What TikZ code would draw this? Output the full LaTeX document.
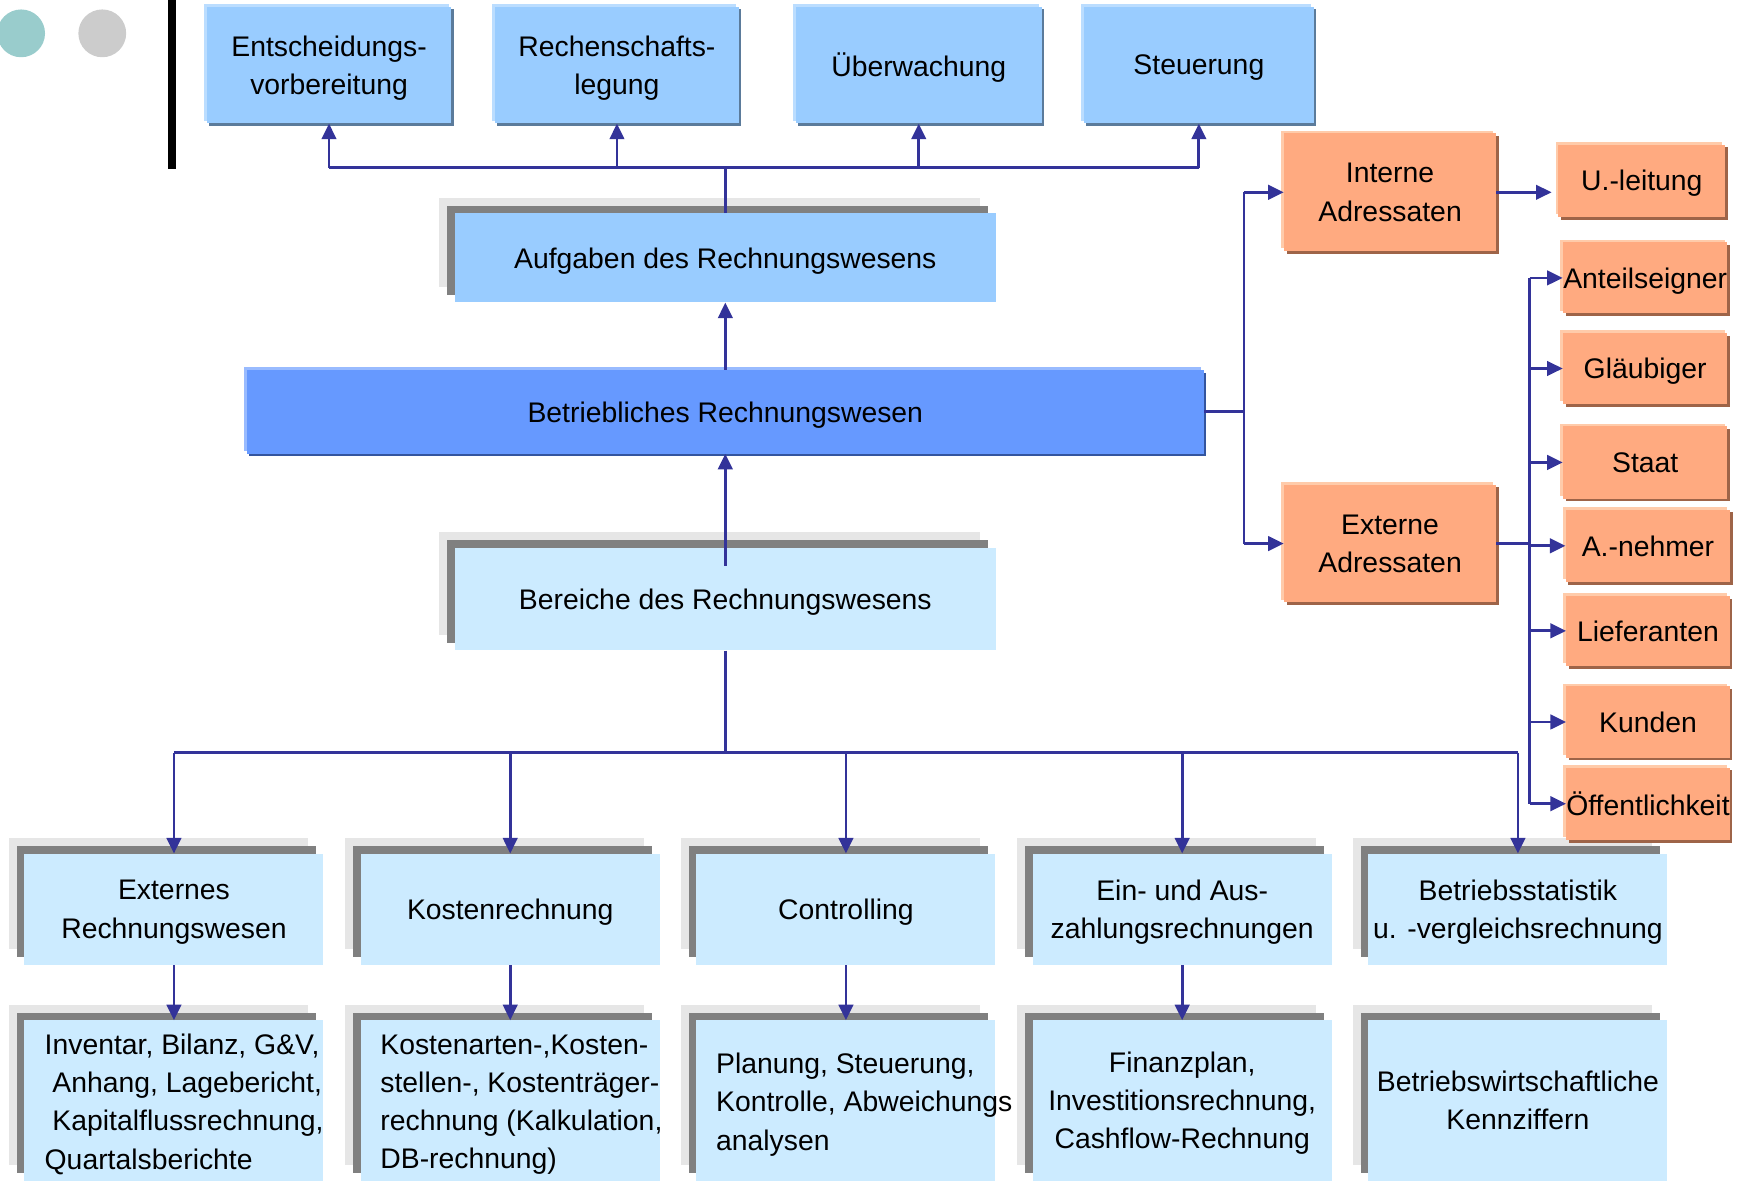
\documentclass[tikz,border=0pt]{standalone}
\usepackage{fontspec}
\setmainfont{Liberation Sans}
\usetikzlibrary{arrows.meta,shadows}
\definecolor{conn}{HTML}{333399}
\definecolor{topblue}{HTML}{99CCFF}
\definecolor{tophi}{HTML}{BBDDFF}
\definecolor{topsh}{HTML}{5B7B9B}
\definecolor{midblue}{HTML}{6699FF}
\definecolor{midhi}{HTML}{99BBFF}
\definecolor{midsh}{HTML}{33559F}
\definecolor{orfill}{HTML}{FFAA80}
\definecolor{orhi}{HTML}{FFCBAA}
\definecolor{orsh}{HTML}{9E6448}
\definecolor{paleblue}{HTML}{CCEBFF}
\definecolor{lgray}{HTML}{E6E6E6}
\definecolor{dgray}{HTML}{808080}
\definecolor{dotteal}{HTML}{99CCCC}
\definecolor{dotgray}{HTML}{CCCCCC}
\tikzset{
  arr/.style={draw=conn, line width=2.5pt, -{Triangle[length=14pt,width=13pt]}},
  ln/.style={draw=conn, line width=2.5pt},
  topbox/.style={fill=topblue,
    general shadow={fill=topsh, shadow xshift=2pt, shadow yshift=-2.5pt},
    general shadow={fill=tophi, shadow xshift=-2.5pt, shadow yshift=2.5pt}},
  midbox/.style={fill=midblue,
    general shadow={fill=midsh, shadow xshift=2pt, shadow yshift=-2.5pt},
    general shadow={fill=midhi, shadow xshift=-2.5pt, shadow yshift=2.5pt}},
  orbox/.style={fill=orfill,
    general shadow={fill=orsh, shadow xshift=2.5pt, shadow yshift=-2.5pt},
    general shadow={fill=orhi, shadow xshift=-2.5pt, shadow yshift=2.5pt}},
  layered/.style={fill=#1,
    general shadow={fill=lgray, shadow xshift=-14pt, shadow yshift=14pt},
    general shadow={fill=dgray, shadow xshift=-7pt, shadow yshift=7pt}},
  txt/.style={anchor=west, align=left},
}
\begin{document}
\begin{tikzpicture}[x=1pt,y=-1pt,
  every node/.style={font=\fontsize{25.5}{34.3}\selectfont, inner sep=0pt, align=center, text depth=0pt}]
\useasboundingbox (0,0) rectangle (1568,1064);
% decoration
\fill[dotteal] (19,30) circle[radius=21.5pt];
\fill[dotgray] (92,30) circle[radius=21.5pt];
\fill[black] (151,0) rectangle (158,152);
% top row
\node[topbox, minimum width=220pt, minimum height=105pt] (e1) at (296,58.5) {Entscheidungs-\\vorbereitung};
\node[topbox, minimum width=220pt, minimum height=105pt] (e2) at (555,58.5) {Rechenschafts-\\legung};
\node[topbox, minimum width=221pt, minimum height=105pt] (e3) at (826.5,58.5) {Überwachung};
\node[topbox, minimum width=207pt, minimum height=105pt] (e4) at (1078.5,58.5) {Steuerung};
% middle
\node[layered=topblue, minimum width=487pt, minimum height=80pt] (aufg) at (652.5,232) {Aufgaben des Rechnungswesens};
\node[midbox, minimum width=861pt, minimum height=75pt] (betr) at (652.5,370.5) {Betriebliches Rechnungswesen};
\node[layered=paleblue, minimum width=487pt, minimum height=92pt] (ber) at (652.5,539) {Bereiche des Rechnungswesens};
% row 1
\node[layered=paleblue, minimum width=269pt, minimum height=100pt] (r1a) at (156.5,818) {Externes\\Rechnungswesen};
\node[layered=paleblue, minimum width=269pt, minimum height=100pt] (r1b) at (459,818) {Kostenrechnung};
\node[layered=paleblue, minimum width=269pt, minimum height=100pt] (r1c) at (761,818) {Controlling};
\node[layered=paleblue, minimum width=269pt, minimum height=100pt] (r1d) at (1063.5,818) {Ein- und Aus-\\zahlungsrechnungen};
\node[layered=paleblue, minimum width=269pt, minimum height=100pt] (r1e) at (1365.5,818) {Betriebsstatistik\\u. -vergleichsrechnung};
% row 2
\node[layered=paleblue, minimum width=269pt, minimum height=144pt] (r2a) at (156.5,990) {};
\node[layered=paleblue, minimum width=269pt, minimum height=144pt] (r2b) at (459,990) {};
\node[layered=paleblue, minimum width=269pt, minimum height=144pt] (r2c) at (761,990) {};
\node[layered=paleblue, minimum width=269pt, minimum height=144pt] (r2d) at (1063.5,990) {Finanzplan,\\Investitionsrechnung,\\Cashflow-Rechnung};
\node[layered=paleblue, minimum width=269pt, minimum height=144pt] (r2e) at (1365.5,990) {Betriebswirtschaftliche\\Kennziffern};
\node[txt] (t2a) at (40,991) {Inventar, Bilanz, G\&V,\\\hspace*{7pt}Anhang, Lagebericht,\\\hspace*{7pt}Kapitalflussrechnung,\\Quartalsberichte};
\node[txt] (t2b) at (342,991) {Kostenarten-,Kosten-\\stellen-, Kostenträger-\\rechnung (Kalkulation,\\DB-rechnung)};
\node[txt] (t2c) at (644,991) {Planung, Steuerung,\\Kontrolle, Abweichungs\\analysen};
% right side
\node[orbox, minimum width=191pt, minimum height=106pt] (int) at (1250.5,173) {Interne\\Adressaten};
\node[orbox, minimum width=191pt, minimum height=106pt] (ext) at (1250.5,489) {Externe\\Adressaten};
\node[orbox, minimum width=150pt, minimum height=65pt] (ul) at (1477,162.5) {U.-leitung};
\node[orbox, minimum width=148pt, minimum height=64pt] (a1) at (1480,250) {Anteilseigner};
\node[orbox, minimum width=148pt, minimum height=64pt] (a2) at (1480,331.5) {Gläubiger};
\node[orbox, minimum width=148pt, minimum height=65pt] (a3) at (1480,416) {Staat};
\node[orbox, minimum width=148pt, minimum height=65pt] (a4) at (1482.5,491) {A.-nehmer};
\node[orbox, minimum width=147pt, minimum height=63pt] (a5) at (1482.5,567.5) {Lieferanten};
\node[orbox, minimum width=147pt, minimum height=64pt] (a6) at (1482.5,649.5) {Kunden};
\node[orbox, minimum width=147pt, minimum height=65pt] (a7) at (1482.5,723) {Öffentlichkeit};
% helper coordinates
\coordinate (hy) at (0,151);
\coordinate (hb) at (0,677);
\coordinate (vl) at (1119,0);
\coordinate (vr) at (1376,0);
% top connectors
\draw[ln] (aufg.north) -- (aufg.north |- hy);
\draw[ln] (e1.south |- hy) -- (e4.south |- hy);
\foreach \n in {e1,e2,e3,e4} \draw[arr] (\n.south |- hy) -- (\n.south);
\draw[arr] (betr.north) -- (aufg.south);
\draw[arr] ([yshift=-16pt]ber.north) -- (betr.south);
% bottom connectors
\draw[ln] (ber.south) -- (ber.south |- hb);
\draw[ln] (r1a.north |- hb) -- (r1e.north |- hb);
\foreach \n in {r1a,r1b,r1c,r1d,r1e} \draw[arr] (\n.north |- hb) -- (\n.north);
\draw[arr] (r1a.south) -- (r2a.north);
\draw[arr] (r1b.south) -- (r2b.north);
\draw[arr] (r1c.south) -- (r2c.north);
\draw[arr] (r1d.south) -- (r2d.north);
% right connectors
\draw[ln] (betr.east) -- (betr.east -| vl);
\draw[ln] (vl |- int.west) -- (vl |- ext.west);
\draw[arr] (vl |- int.west) -- (int.west);
\draw[arr] (vl |- ext.west) -- (ext.west);
\draw[arr, shorten >=6pt] (int.east) -- (int.east -| ul.west);
\draw[ln] (ext.east) -- (ext.east -| vr);
\draw[ln] (vr |- a1.west) -- (vr |- a7.west);
\foreach \n in {a1,a2,a3,a4,a5,a6,a7} \draw[arr] (vr |- \n.west) -- (\n.west);
\end{tikzpicture}
\end{document}
